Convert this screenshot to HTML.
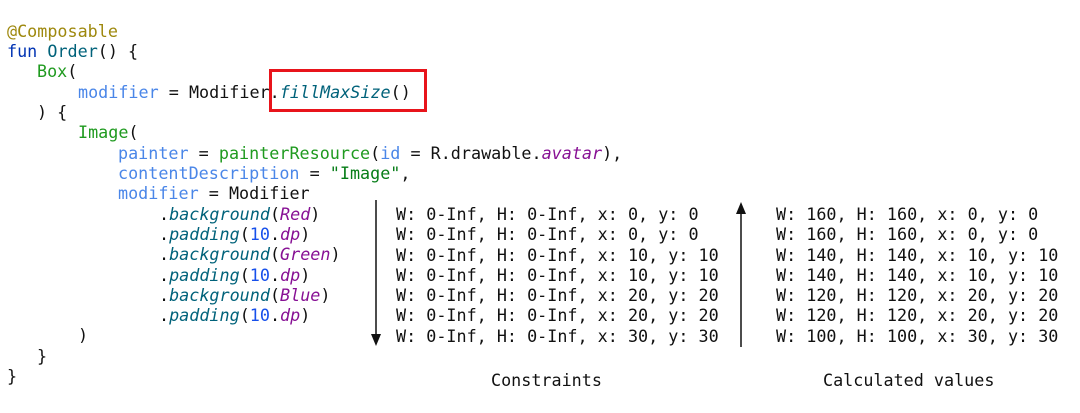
<!DOCTYPE html>
<html><head><meta charset="utf-8"><style>
html,body{margin:0;padding:0;background:#fff;}
body{width:1080px;height:413px;position:relative;overflow:hidden;font-family:"DejaVu Sans Mono","Liberation Mono",monospace;font-size:16.75px;color:#111;}
.l{position:absolute;white-space:pre;line-height:20px;}
.an{color:#9e880d}.kw{color:#0033b3}.fn{color:#00627a}.gr{color:#1f9a1f}.pr{color:#4a86e8}
.it{font-style:italic;color:#00627a}.pu{font-style:italic;color:#871094}.nu{color:#1750eb}.st{color:#067d17}
</style></head><body>
<div class="l" style="left:7px;top:21px"><span class="an">@Composable</span></div>
<div class="l" style="left:7px;top:41px"><span class="kw">fun</span> <span class="fn">Order</span>() {</div>
<div class="l" style="left:37px;top:61px"><span class="gr">Box</span>(</div>
<div class="l" style="left:78px;top:82px"><span class="pr">modifier</span> = Modifier.<span class="it">fillMaxSize</span>()</div>
<div class="l" style="left:37px;top:102px">) {</div>
<div class="l" style="left:78px;top:122px"><span class="gr">Image</span>(</div>
<div class="l" style="left:118px;top:143px"><span class="pr">painter</span> = <span class="gr">painterResource</span>(<span class="pr">id</span> = R.drawable.<span class="pu">avatar</span>),</div>
<div class="l" style="left:118px;top:163px"><span class="pr">contentDescription</span> = <span class="st">"Image"</span>,</div>
<div class="l" style="left:118px;top:183px"><span class="pr">modifier</span> = Modifier</div>
<div class="l" style="left:159px;top:204px">.<span class="it">background</span>(<span class="pu">Red</span>)</div>
<div class="l" style="left:159px;top:224px">.<span class="it">padding</span>(<span class="nu">10</span>.<span class="pu">dp</span>)</div>
<div class="l" style="left:159px;top:244px">.<span class="it">background</span>(<span class="pu">Green</span>)</div>
<div class="l" style="left:159px;top:265px">.<span class="it">padding</span>(<span class="nu">10</span>.<span class="pu">dp</span>)</div>
<div class="l" style="left:159px;top:285px">.<span class="it">background</span>(<span class="pu">Blue</span>)</div>
<div class="l" style="left:159px;top:305px">.<span class="it">padding</span>(<span class="nu">10</span>.<span class="pu">dp</span>)</div>
<div class="l" style="left:78px;top:325px">)</div>
<div class="l" style="left:37px;top:346px">}</div>
<div class="l" style="left:7px;top:366px">}</div>

<div style="position:absolute;left:269px;top:69px;width:152px;height:37px;border:3px solid #e8141b;"></div>

<div class="l" style="left:396px;top:204px;line-height:20.3px">W: 0-Inf, H: 0-Inf, x: 0, y: 0
W: 0-Inf, H: 0-Inf, x: 0, y: 0
W: 0-Inf, H: 0-Inf, x: 10, y: 10
W: 0-Inf, H: 0-Inf, x: 10, y: 10
W: 0-Inf, H: 0-Inf, x: 20, y: 20
W: 0-Inf, H: 0-Inf, x: 20, y: 20
W: 0-Inf, H: 0-Inf, x: 30, y: 30</div>
<div class="l" style="left:776px;top:204px;line-height:20.3px">W: 160, H: 160, x: 0, y: 0
W: 160, H: 160, x: 0, y: 0
W: 140, H: 140, x: 10, y: 10
W: 140, H: 140, x: 10, y: 10
W: 120, H: 120, x: 20, y: 20
W: 120, H: 120, x: 20, y: 20
W: 100, H: 100, x: 30, y: 30</div>
<div class="l" style="left:491px;top:370px">Constraints</div>
<div class="l" style="left:823px;top:370px">Calculated values</div>

<svg style="position:absolute;left:0;top:0" width="1080" height="413">
<line x1="376" y1="200" x2="376" y2="336" stroke="#111" stroke-width="1.5"/>
<polygon points="371,334 381,334 376,346" fill="#111"/>
<line x1="741" y1="212" x2="741" y2="347" stroke="#111" stroke-width="1.5"/>
<polygon points="736,214 746,214 741,202" fill="#111"/>
</svg>
</body></html>
